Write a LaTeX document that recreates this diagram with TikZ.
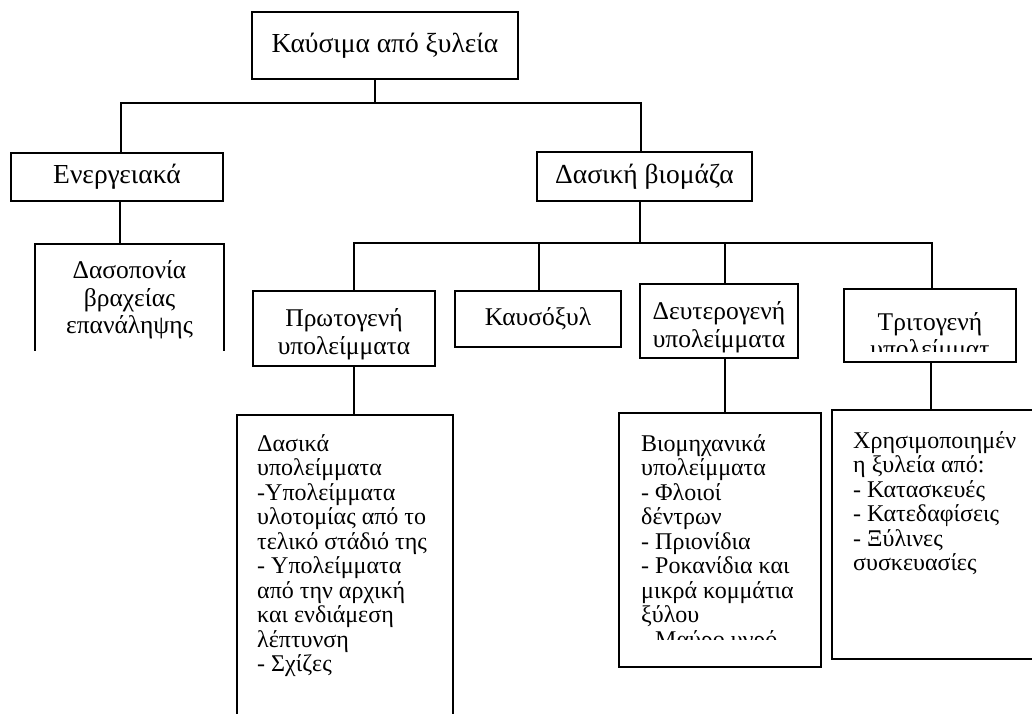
\documentclass[tikz,border=0pt]{standalone}
\usepackage{fontspec}
\setmainfont{Liberation Serif}
\newcommand\fsa{\fontsize{27.5}{31}\selectfont}
\newcommand\fsb{\fontsize{25.5}{27.5}\selectfont}
\newcommand\fsc{\fontsize{24}{24.5}\selectfont}
\begin{document}
\begin{tikzpicture}[x=1pt,y=-1pt,
  box/.style={draw, line width=1.6pt, inner sep=0pt, align=center},
  txt/.style={inner sep=0pt, font=\fsc},
  conn/.style={line width=1.6pt}]
\clip (0,0) rectangle (1032,713);
\fill[white] (0,0) rectangle (1032,713);

% level 0 and 1
\node[box, font=\fsa, minimum width=266, minimum height=67] (top) at (385,45.5) {Καύσιμα από ξυλεία};
\node[box, font=\fsa, minimum width=212, minimum height=48] (en) at (117,177) {Ενεργειακά};
\node[box, font=\fsa, minimum width=215, minimum height=49] (das) at (644.5,176.5) {Δασική βιομάζα};

% open-bottom box
\node[box, font=\fsb, draw=none, minimum width=187, minimum height=105] (dasop) at (129.5,300) {Δασοπονία\\βραχείας\\επανάληψης};
\draw[conn] ([yshift=2.5pt]dasop.south west) -- ([yshift=2.5pt]dasop.north west) -- ([yshift=2.5pt]dasop.north east) -- ([yshift=2.5pt]dasop.south east);

% level 2
\node[box, minimum width=182, minimum height=75] (prot) at (344,328.5) {};
\node[txt, font=\fsb, align=center] (prott) at (344,334) {Πρωτογενή\\υπολείμματα};
\node[box, font=\fsb, minimum width=166, minimum height=56] (kaus) at (538,319) {Καυσόξυλ};
\node[box, minimum width=158, minimum height=74] (deut) at (719,321) {};
\node[txt, font=\fsb, align=center] (deutt) at (719,327) {Δευτερογενή\\υπολείμματα};
\node[box, minimum width=172, minimum height=73] (trit) at (930,325.5) {};
\begin{scope}
  \clip (trit.north west) rectangle ([yshift=11pt]trit.south east);
  \node[txt, font=\fsb, align=center, anchor=north] (tritt) at (930,312) {Τριτογενή\\υπολείμματ};
\end{scope}

% level 3
\node[box, minimum width=216, minimum height=315] (dasika) at (345,572.5) {};
\node[txt, align=left, anchor=north west] (dasikat) at (257,434) {Δασικά\\υπολείμματα\\-Υπολείμματα\\υλοτομίας από το\\τελικό στάδιό της\\- Υπολείμματα\\από την αρχική\\και ενδιάμεση\\λέπτυνση\\- Σχίζες};

\node[box, minimum width=202, minimum height=254] (viom) at (720,540) {};
\begin{scope}
  \clip (viom.north west) rectangle ([yshift=28pt]viom.south east);
  \node[txt, align=left, anchor=north west] (viomt) at (641,434) {Βιομηχανικά\\υπολείμματα\\- Φλοιοί\\δέντρων\\- Πριονίδια\\- Ροκανίδια και\\μικρά κομμάτια\\ξύλου\\- Μαύρο υγρό};
\end{scope}

\node[box, minimum width=213, minimum height=249] (xris) at (938.5,534.5) {};
\node[txt, align=left, anchor=north west] (xrist) at (853,431) {Χρησιμοποιημέν\\η ξυλεία από:\\- Κατασκευές\\- Κατεδαφίσεις\\- Ξύλινες\\συσκευασίες};

% connectors
\coordinate (j1) at (375,103);
\coordinate (jl) at (121,103);
\coordinate (jr) at (641,103);
\draw[conn] (top.south -| j1) -- (j1);
\draw[conn] (jl |- en.north) -- (jl) -- (jr) -- (jr |- das.north);
\coordinate (c1) at (120,220);
\draw[conn] (en.south -| c1) -- ([yshift=2.5pt]dasop.north -| c1);

\coordinate (j2) at (640,243);
\coordinate (k1) at (354,243);
\coordinate (k2) at (539,243);
\coordinate (k3) at (725,243);
\coordinate (k4) at (932,243);
\draw[conn] (das.south -| j2) -- (j2);
\draw[conn] (k1 |- prot.north) -- (k1) -- (k4) -- (k4 |- trit.north);
\draw[conn] (k2) -- (k2 |- kaus.north);
\draw[conn] (k3) -- (k3 |- deut.north);
\draw[conn] (prot.south -| k1) -- (dasika.north -| k1);
\draw[conn] (deut.south -| k3) -- (viom.north -| k3);
\coordinate (c4) at (931,380);
\draw[conn] (trit.south -| c4) -- (xris.north -| c4);
\end{tikzpicture}
\end{document}
